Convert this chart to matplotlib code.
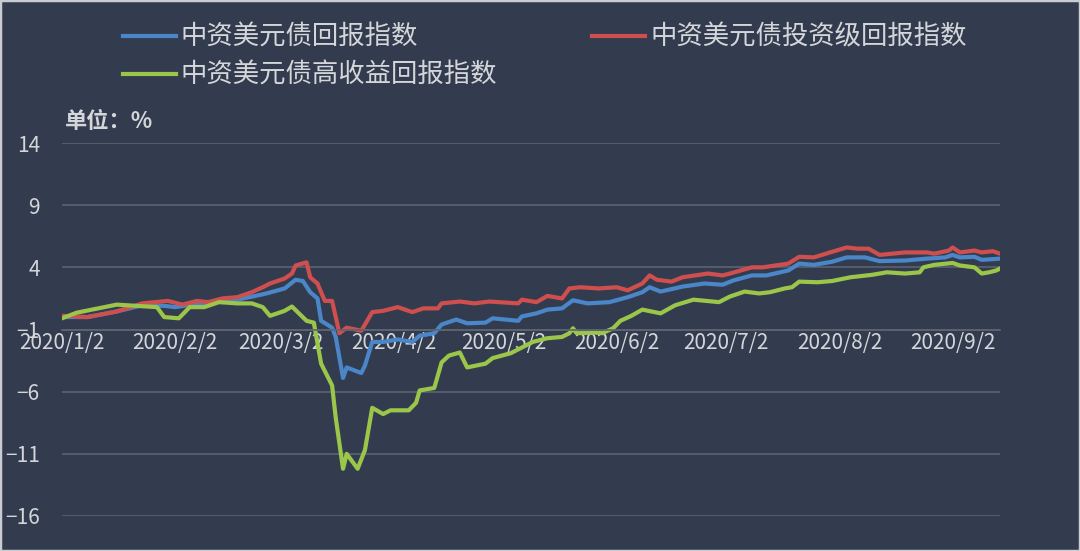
import matplotlib
matplotlib.use('Agg')
import matplotlib.pyplot as plt
from matplotlib.patches import Rectangle
import pandas as pd

plt.rcParams['font.family'] = ['Noto Sans CJK SC', 'DejaVu Sans']

bg = '#323c4e'
txt = '#d4d6da'
grid_c = '#5c6371'

# 中资美元债回报指数
blue_dates = ['2020-01-02', '2020-01-09', '2020-01-17', '2020-01-24', '2020-01-30', '2020-02-02',
              '2020-02-09', '2020-02-19', '2020-02-24', '2020-02-27', '2020-03-03', '2020-03-06',
              '2020-03-08', '2020-03-10', '2020-03-12', '2020-03-13', '2020-03-16', '2020-03-17',
              '2020-03-19', '2020-03-20', '2020-03-24', '2020-03-25', '2020-03-27', '2020-03-30',
              '2020-04-03', '2020-04-07', '2020-04-09', '2020-04-13', '2020-04-15', '2020-04-19',
              '2020-04-22', '2020-04-27', '2020-04-29', '2020-05-06', '2020-05-07', '2020-05-11',
              '2020-05-14', '2020-05-18', '2020-05-21', '2020-05-25', '2020-05-31', '2020-06-05',
              '2020-06-09', '2020-06-11', '2020-06-14', '2020-06-20', '2020-06-26', '2020-07-01',
              '2020-07-04', '2020-07-09', '2020-07-13', '2020-07-19', '2020-07-22', '2020-07-26',
              '2020-07-31', '2020-08-04', '2020-08-09', '2020-08-13', '2020-08-20', '2020-08-26',
              '2020-08-31', '2020-09-02', '2020-09-04', '2020-09-08', '2020-09-10', '2020-09-15']
blue_vals = [0.0, 0.0, 0.45, 0.95, 0.9, 0.8, 1.1, 1.4, 1.7, 1.9, 2.3, 3.0,
             2.9, 2.0, 1.5, -0.3, -0.85, -1.6, -4.9, -4.05, -4.5, -3.9, -2.0, -2.0,
             -1.8, -2.0, -1.5, -1.3, -0.6, -0.2, -0.5, -0.45, -0.1, -0.3, 0.05, 0.3,
             0.6, 0.7, 1.35, 1.1, 1.2, 1.6, 2.0, 2.4, 2.05, 2.45, 2.7, 2.6,
             2.95, 3.35, 3.35, 3.75, 4.3, 4.2, 4.45, 4.8, 4.8, 4.5, 4.55, 4.7,
             4.8, 5.0, 4.8, 4.85, 4.6, 4.7]

# 中资美元债投资级回报指数
red_dates = ['2020-01-02', '2020-01-09', '2020-01-17', '2020-01-24', '2020-01-31', '2020-02-04',
             '2020-02-08', '2020-02-11', '2020-02-15', '2020-02-19', '2020-02-23', '2020-02-26',
             '2020-02-28', '2020-03-03', '2020-03-05', '2020-03-06', '2020-03-09', '2020-03-10',
             '2020-03-12', '2020-03-14', '2020-03-16', '2020-03-17', '2020-03-18', '2020-03-20',
             '2020-03-24', '2020-03-27', '2020-03-30', '2020-04-03', '2020-04-07', '2020-04-10',
             '2020-04-14', '2020-04-15', '2020-04-20', '2020-04-24', '2020-04-28', '2020-05-06',
             '2020-05-07', '2020-05-11', '2020-05-14', '2020-05-18', '2020-05-20', '2020-05-23',
             '2020-05-28', '2020-06-02', '2020-06-05', '2020-06-09', '2020-06-11', '2020-06-13',
             '2020-06-17', '2020-06-20', '2020-06-27', '2020-07-01', '2020-07-03', '2020-07-09',
             '2020-07-12', '2020-07-19', '2020-07-22', '2020-07-26', '2020-07-31', '2020-08-04',
             '2020-08-07', '2020-08-10', '2020-08-13', '2020-08-20', '2020-08-26', '2020-08-28',
             '2020-09-01', '2020-09-02', '2020-09-04', '2020-09-08', '2020-09-10', '2020-09-13',
             '2020-09-15']
red_vals = [0.1, 0.0, 0.45, 1.1, 1.3, 1.0, 1.3, 1.2, 1.5, 1.6, 2.0, 2.4,
            2.7, 3.1, 3.5, 4.15, 4.4, 3.2, 2.7, 1.3, 1.3, 0.0, -1.3, -0.85,
            -1.1, 0.4, 0.5, 0.8, 0.4, 0.7, 0.7, 1.1, 1.25, 1.1, 1.25, 1.1,
            1.4, 1.2, 1.7, 1.5, 2.3, 2.4, 2.3, 2.4, 2.15, 2.7, 3.35, 3.0,
            2.85, 3.2, 3.5, 3.35, 3.5, 4.0, 4.0, 4.3, 4.85, 4.8, 5.25, 5.6,
            5.5, 5.5, 5.0, 5.2, 5.2, 5.1, 5.35, 5.6, 5.2, 5.35, 5.2, 5.3,
            5.1]

# 中资美元债高收益回报指数
green_dates = ['2020-01-02', '2020-01-06', '2020-01-17', '2020-01-28', '2020-01-30', '2020-02-03',
               '2020-02-06', '2020-02-10', '2020-02-14', '2020-02-19', '2020-02-23', '2020-02-26',
               '2020-02-28', '2020-03-03', '2020-03-05', '2020-03-09', '2020-03-11', '2020-03-13',
               '2020-03-16', '2020-03-17', '2020-03-19', '2020-03-20', '2020-03-23', '2020-03-25',
               '2020-03-27', '2020-03-30', '2020-04-01', '2020-04-06', '2020-04-08', '2020-04-09',
               '2020-04-13', '2020-04-15', '2020-04-17', '2020-04-20', '2020-04-22', '2020-04-27',
               '2020-04-29', '2020-05-04', '2020-05-10', '2020-05-14', '2020-05-18', '2020-05-20',
               '2020-05-21', '2020-05-22', '2020-05-27', '2020-05-29', '2020-06-01', '2020-06-03',
               '2020-06-06', '2020-06-09', '2020-06-14', '2020-06-18', '2020-06-23', '2020-06-30',
               '2020-07-03', '2020-07-07', '2020-07-11', '2020-07-14', '2020-07-18', '2020-07-20',
               '2020-07-22', '2020-07-27', '2020-07-31', '2020-08-05', '2020-08-11', '2020-08-15',
               '2020-08-20', '2020-08-24', '2020-08-25', '2020-08-28', '2020-09-02', '2020-09-04',
               '2020-09-08', '2020-09-10', '2020-09-12', '2020-09-14', '2020-09-15']
green_vals = [-0.1, 0.35, 1.0, 0.8, 0.0, -0.1, 0.8, 0.8, 1.2, 1.1, 1.1, 0.8,
              0.1, 0.5, 0.85, -0.3, -0.45, -3.75, -5.5, -8.1, -12.2, -11.0, -12.2, -10.7,
              -7.3, -7.8, -7.5, -7.5, -6.9, -5.9, -5.7, -3.65, -3.1, -2.85, -4.05, -3.75,
              -3.3, -2.9, -2.0, -1.7, -1.6, -1.3, -0.9, -1.3, -1.25, -1.3, -0.9, -0.3,
              0.1, 0.6, 0.3, 0.95, 1.4, 1.2, 1.65, 2.05, 1.9, 2.0, 2.3, 2.4,
              2.85, 2.8, 2.9, 3.2, 3.4, 3.6, 3.5, 3.6, 4.0, 4.2, 4.35, 4.15,
              4.0, 3.5, 3.6, 3.75, 3.9]

tick_dates = ['2020-01-02', '2020-02-02', '2020-03-02', '2020-04-02', '2020-05-02',
              '2020-06-02', '2020-07-02', '2020-08-02', '2020-09-02']
tick_labels = ['2020/1/2', '2020/2/2', '2020/3/2', '2020/4/2', '2020/5/2',
               '2020/6/2', '2020/7/2', '2020/8/2', '2020/9/2']
y_ticks = [14, 9, 4, -1, -6, -11, -16]

fig = plt.figure(figsize=(10.8, 5.51), dpi=100, facecolor=bg)
ax = fig.add_axes([62 / 1080, 1 - 516 / 551, 938 / 1080, 373 / 551])
ax.set_facecolor(bg)

l_blue, = ax.plot(pd.to_datetime(blue_dates), blue_vals, color='#4a86c8', lw=3, label='中资美元债回报指数')
l_red, = ax.plot(pd.to_datetime(red_dates), red_vals, color='#cf4f4f', lw=3, label='中资美元债投资级回报指数')
l_green, = ax.plot(pd.to_datetime(green_dates), green_vals, color='#9bc64a', lw=3, label='中资美元债高收益回报指数')

ax.set_ylim(-16, 14)
ax.set_xlim(pd.Timestamp('2020-01-02'), pd.Timestamp('2020-09-15'))
ax.set_yticks(y_ticks)
ax.set_xticks(pd.to_datetime(tick_dates))
ax.set_xticklabels(tick_labels)
ax.grid(axis='y', color=grid_c, lw=1.2)
ax.set_axisbelow(True)
for s in ['top', 'right', 'left']:
    ax.spines[s].set_visible(False)
ax.spines['bottom'].set_position(('data', -1))
ax.spines['bottom'].set_color(grid_c)
ax.spines['bottom'].set_linewidth(1.2)
ax.tick_params(axis='x', length=0, pad=2, labelsize=15, labelcolor=txt)
ax.tick_params(axis='y', length=0, pad=16, labelsize=15, labelcolor=txt)

fig.legend(handles=[l_blue, l_green, l_red], ncol=2, frameon=False,
           loc='upper left', bbox_to_anchor=(99 / 1080, 1.0),
           fontsize=19, labelcolor=txt, handlelength=2.0, handletextpad=0.2,
           columnspacing=3.6, labelspacing=0.42)

fig.text(65 / 1080, 1 - 122 / 551, '单位：%', fontsize=16, fontweight='bold',
         color=txt, va='center', ha='left')

fig.patches.append(Rectangle((0, 0), 1, 1, transform=fig.transFigure, fill=False,
                             edgecolor='#c9ccd1', lw=2.5))

fig.savefig('out.png', dpi=100, facecolor=bg)
